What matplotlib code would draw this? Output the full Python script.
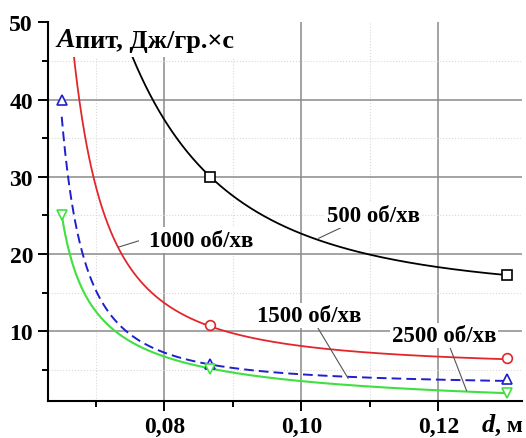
import numpy as np
import matplotlib.pyplot as plt
from matplotlib.patches import Rectangle

# measured points (d, m) -> A, J/(gr*s); first point of 500 and 1000 lies above the chart
d_points = [0.065, 0.0867, 0.13]
a_500 = [np.nan, 30.0, 17.3]
a_1000 = [np.nan, 10.8, 6.5]
a_1500 = [40.0, 5.8, 3.8]
a_2500 = [25.0, 5.1, 1.95]

# values
curve_500_d = [0.0753, 0.0783, 0.0815, 0.0867, 0.0908, 0.0998, 0.1090, 0.1200, 0.1300]
curve_500_a = [45.6, 40.1, 35.1, 30.0, 27.1, 22.8, 20.0, 18.3, 17.3]
curve_1000_d = [0.0668, 0.0676, 0.0695, 0.07375, 0.0793, 0.0867, 0.1000, 0.1202, 0.1300]
curve_1000_a = [45.6, 40.0, 30.0, 20.0, 14.2, 10.8, 7.9, 6.65, 6.5]
curve_1500_d = [0.0650, 0.0658, 0.0666, 0.0679, 0.0701, 0.0747, 0.0800, 0.0867, 0.0925, 0.1000, 0.1071, 0.1300]
curve_1500_a = [40.0, 30.0, 25.0, 20.0, 15.5, 10.0, 7.5, 5.8, 4.9, 4.25, 3.92, 3.8]
curve_2500_d = [0.0650, 0.0663, 0.0679, 0.0730, 0.0800, 0.0867, 0.0925, 0.1000, 0.1071, 0.1241, 0.1300]
curve_2500_a = [25.0, 20.0, 15.5, 10.0, 6.76, 5.1, 4.17, 3.55, 3.1, 2.25, 1.95]

x_ticks = [0.08, 0.10, 0.12]
x_tick_labels = ['0,08', '0,10', '0,12']
y_ticks = [10, 20, 30, 40, 50]

SERIF = 'Liberation Serif'
FS = 16.5


def fit_hyperbola(cd, ca):
    """Weighted least-squares fit of A = c + k / (d - d0)**n to the curve readings."""
    d = np.asarray(cd, float)
    a = np.asarray(ca, float)
    w = 1.0 / a  # relative error, so the flat tail counts as much as the steep start
    best = None
    for d0 in np.linspace(0.030, d.min() - 0.0002, 160):
        for n in np.linspace(0.2, 4.0, 77):
            X = np.column_stack([np.ones_like(d), (d - d0) ** -n])
            coef, *_ = np.linalg.lstsq(X * w[:, None], a * w, rcond=None)
            err = np.sum(((X @ coef - a) * w) ** 2)
            if best is None or err < best[0]:
                best = (err, d0, n, coef)
    _, d0, n, (c, k) = best
    return lambda x: c + k * (x - d0) ** -n


def draw_curve(ax, cd, ca, start=None, **kw):
    f = fit_hyperbola(cd, ca)
    xn = np.linspace(cd[0] if start is None else start, cd[-1], 1500)
    ax.plot(xn, f(xn), zorder=2, **kw)


fig = plt.figure(figsize=(5.26, 4.39), dpi=100)
ax = fig.add_axes([48.3 / 526, 1 - 401.5 / 439, 473.4 / 526, 378.2 / 439])

draw_curve(ax, curve_500_d, curve_500_a, start=0.0735, color='black', lw=1.3)
draw_curve(ax, curve_1000_d, curve_1000_a, start=0.0660, color='#e3262b', lw=1.3)
draw_curve(ax, curve_1500_d, curve_1500_a, color='#1f1fcc', lw=1.4, dashes=(5, 2.6))
draw_curve(ax, curve_2500_d, curve_2500_a, color='#3fe03f', lw=1.5)

mk = dict(ls='none', markerfacecolor='white', markeredgewidth=1.2, zorder=3)
ax.plot(d_points, a_500, marker='s', ms=6.5, color='black', **mk)
ax.plot(d_points, a_1000, marker='o', ms=7, color='#e3262b', **mk)
ax.plot(d_points, a_1500, marker='^', ms=7.5, color='#1f1fcc', **mk)
ax.plot(d_points, a_2500, marker='v', ms=7.5, color='#3fe03f', **mk)

ax.set_xlim(0.06304, 0.13215)
ax.set_ylim(1.04, 50)
ax.set_xticks(x_ticks)
ax.set_xticklabels(x_tick_labels)
ax.set_xticks([0.07, 0.09, 0.11], minor=True)
ax.set_yticks(y_ticks)
ax.set_yticks([5, 15, 25, 35, 45], minor=True)
for lab in ax.get_xticklabels() + ax.get_yticklabels():
    lab.set_fontfamily(SERIF)
    lab.set_fontweight('bold')
    lab.set_fontsize(17)
ax.tick_params(which='major', length=7, width=1.4, direction='out', pad=4)
ax.tick_params(which='minor', length=4, width=1.4, direction='out')
ax.grid(True, which='major', color='#8a8a8a', lw=1.1, zorder=0)
ax.grid(True, which='minor', color='#d8d8d8', lw=0.8, ls=':', zorder=0)
ax.yaxis.get_gridlines()[-1].set_visible(False)  # no grid line along the top
ax.set_axisbelow(True)
for side in ['top', 'right']:
    ax.spines[side].set_visible(False)
for side in ['left', 'bottom']:
    ax.spines[side].set_linewidth(1.5)

# curve labels with leader lines
lab_kw = dict(fontfamily=SERIF, fontweight='bold', fontsize=FS, ha='center', va='baseline', zorder=6,
              bbox=dict(facecolor='white', edgecolor='none', pad=1.5))
ln_kw = dict(color='#555555', lw=0.8, zorder=5)
ax.text(0.1105, 24.28, '500 об/хв', **lab_kw)
ax.plot([0.1059, 0.1025], [23.46, 22.04], **ln_kw)
ax.text(0.0853, 21.1, '1000 об/хв', **lab_kw)
ax.plot([0.0762, 0.0733], [21.7, 20.9], **ln_kw)
ax.text(0.1011, 11.37, '1500 об/хв', **lab_kw)
ax.plot([0.1022, 0.1068], [10.72, 3.92], **ln_kw)
ax.text(0.1208, 8.78, '2500 об/хв', **lab_kw)
ax.plot([0.1212, 0.1241], [9.0, 2.31], **ln_kw)

# axis title, on a white patch that hides the top of the curves
ax.add_patch(Rectangle((0.008, 0.908), 0.40, 0.10, transform=ax.transAxes,
                       facecolor='white', edgecolor='none', zorder=4, clip_on=False))
t1 = ax.text(0.018, 0.921, 'A', transform=ax.transAxes, fontfamily=SERIF, fontweight='bold',
             style='italic', fontsize=20, va='bottom', zorder=6)
ax.annotate('пит, Дж/гр.×с', xy=(1, 0), xycoords=t1, fontfamily=SERIF, fontweight='bold',
            fontsize=19, va='bottom', zorder=6)

# x axis label
t2 = fig.text(0.994, 0.004, ', м', fontfamily=SERIF, fontweight='bold', fontsize=17, ha='right', va='bottom')
fig.add_artist(plt.Annotation('d', xy=(0, 0), xycoords=t2, ha='right', va='bottom',
                              fontfamily=SERIF, fontweight='bold', style='italic', fontsize=19))

fig.savefig('out.png', dpi=100, facecolor='white')
